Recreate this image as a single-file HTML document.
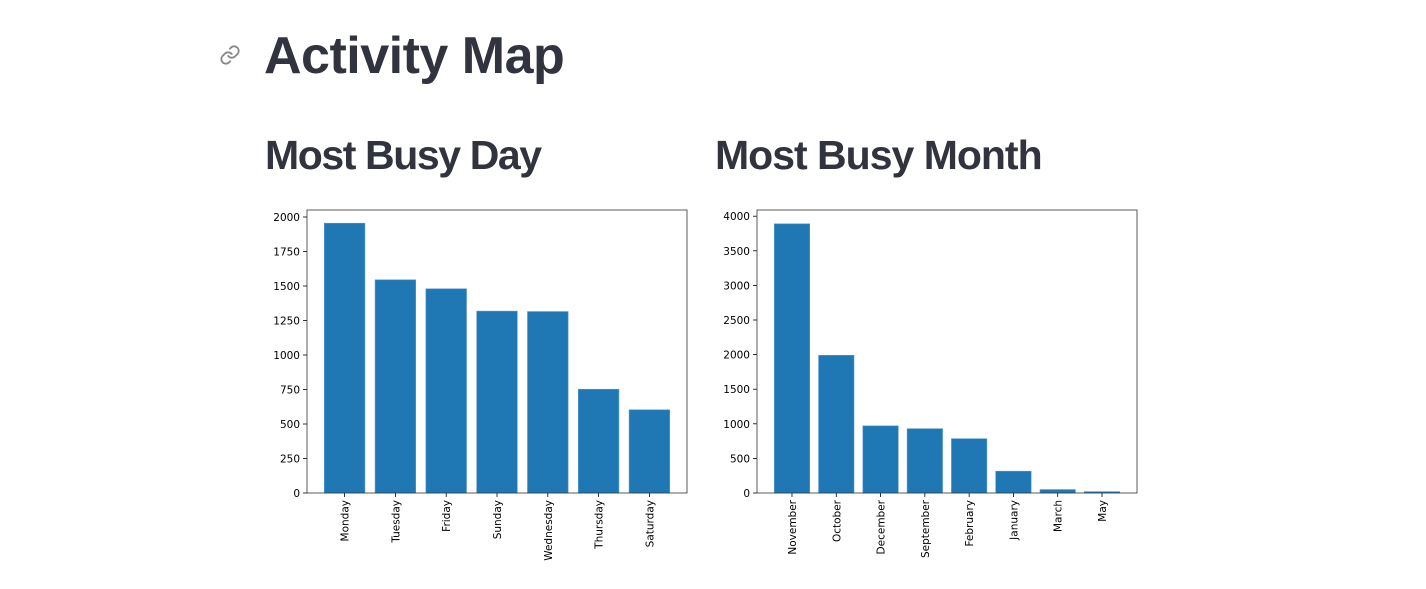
<!DOCTYPE html>
<html><head><meta charset="utf-8"><style>
body{margin:0;background:#fff;width:1426px;height:589px;overflow:hidden;font-family:"Liberation Sans",sans-serif}
.h1{position:absolute;left:264px;top:26px;font-size:52px;font-weight:bold;color:#31333f;letter-spacing:-0.5px}
.h2{position:absolute;top:132px;font-size:41px;font-weight:600;color:#31333f;letter-spacing:-1.4px}
svg text{font-family:"DejaVu Sans",sans-serif;font-size:10.5px;fill:#000}
</style></head><body>
<svg style="position:absolute;left:219px;top:44px" width="22" height="22" viewBox="0 0 24 24" fill="none" stroke="#888" stroke-width="2" stroke-linecap="round"><path d="M10 13a5 5 0 0 0 7.5.5l3-3a5 5 0 0 0-7-7l-1.7 1.7"/><path d="M14 11a5 5 0 0 0-7.5-.5l-3 3a5 5 0 0 0 7 7l1.7-1.7"/></svg>
<div class="h1">Activity Map</div>
<div class="h2" style="left:265px">Most Busy Day</div>
<div class="h2" style="left:715px;letter-spacing:-1px">Most Busy Month</div>
<svg id="s" width="1426" height="589" style="position:absolute;left:0;top:0"></svg>
<script>
const dayCats=["Monday","Tuesday","Friday","Sunday","Wednesday","Thursday","Saturday"];
const dayVals=[1955,1545,1480,1318,1315,752,603];
const dayTicks=[0,250,500,750,1000,1250,1500,1750,2000];
const monCats=["November","October","December","September","February","January","March","May"];
const monVals=[3890,1990,970,930,785,315,50,20];
const monTicks=[0,500,1000,1500,2000,2500,3000,3500,4000];
const NS="http://www.w3.org/2000/svg";
const s=document.getElementById('s');
function mk(t,a,p){const e=document.createElementNS(NS,t);for(const k in a)e.setAttribute(k,a[k]);(p||s).appendChild(e);return e;}
function chart(x0,cats,vals,ticks,yPerUnit,name){
  const top=210,bot=493,w=380;
  const g=mk('g',{});
  
  
  const n=cats.length,lo=-0.4-0.05*(n-1+0.8),hi=n-1+0.4+0.05*(n-1+0.8);
  const xs=v=>x0+(v-lo)/(hi-lo)*w;
  const ys=v=>bot-v*yPerUnit;
  vals.forEach((v,i)=>{
    const r=mk('rect',{x:xs(i-0.4),y:ys(v),width:xs(i+0.4)-xs(i-0.4),height:bot-ys(v),fill:'#1f77b4',stroke:'#5a9bd0','stroke-width':0.6},g);
    
    
    mk('line',{x1:xs(i),x2:xs(i),y1:bot,y2:bot+4,stroke:'#000','stroke-width':0.8},g);
    const t=mk('text',{transform:`translate(${xs(i)+4},${bot+7}) rotate(-90)`,'text-anchor':'end'},g);
    t.textContent=cats[i];
    
    
  });
  ticks.forEach(v=>{
    mk('line',{x1:x0-4,x2:x0,y1:ys(v),y2:ys(v),stroke:'#000','stroke-width':0.8},g);
    const t=mk('text',{x:x0-7,y:ys(v)+4,'text-anchor':'end'},g);
    t.textContent=v;
    
    
  });
  mk('rect',{x:x0,y:top,width:w,height:bot-top,fill:'none',stroke:'#333','stroke-width':0.8},g);
}
chart(307,dayCats,dayVals,dayTicks,34.5/250,'day-bar-chart');
chart(757,monCats,monVals,monTicks,34.6/500,'month-bar-chart');
</script>
</body></html>
